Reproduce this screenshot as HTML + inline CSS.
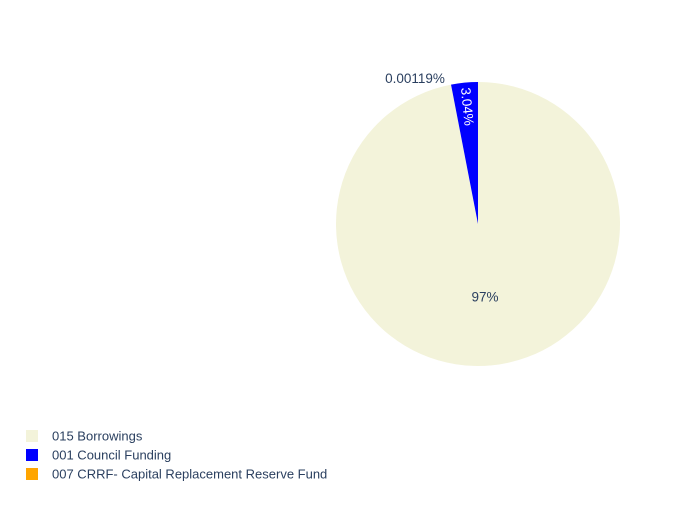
<!DOCTYPE html>
<html><head><meta charset="utf-8"><style>
body{margin:0;background:#fff;font-family:"Liberation Sans",Arial,sans-serif;}
svg text{font-family:"Liberation Sans",Arial,sans-serif;}
</style></head><body>
<svg id="chart" width="700" height="500">
<g id="slices"></g>
<g id="labels"></g>
<g id="legend"></g>
</svg>
<script>
const categories = ["015 Borrowings", "001 Council Funding", "007 CRRF- Capital Replacement Reserve Fund"];
const values = [96.95881, 3.04, 0.00119];
const colors = ["#f3f3da", "#0000ff", "#ffa500"];
const cx = 478, cy = 224, r = 142;
const NS = "http://www.w3.org/2000/svg";
const total = values.reduce((a,b)=>a+b,0);
function pt(a, rr){ return [cx + rr*Math.sin(a), cy - rr*Math.cos(a)]; }
function fmt(p){ if(p>=10) return Math.round(p)+"%"; if(p>=1) return p.toFixed(2)+"%"; return p.toPrecision(3).replace(/0+$/,'')+"%"; }
let ang = 0;
const sg = document.getElementById('slices'), lg = document.getElementById('labels'), leg = document.getElementById('legend');
values.forEach((v,i)=>{
  const a0 = ang, a1 = ang + v/total*2*Math.PI; ang = a1;
  const [x0,y0]=pt(a0,r),[x1,y1]=pt(a1,r);
  const large = (a1-a0)>Math.PI?1:0;
  const p = document.createElementNS(NS,'path');
  p.setAttribute('d',`M${cx},${cy} L${x0},${y0} A${r},${r} 0 ${large} 1 ${x1},${y1} Z`);
  p.setAttribute('fill',colors[i]);
  
  
  sg.appendChild(p);
  const pct = v/total*100, mid=(a0+a1)/2;
  const t = document.createElementNS(NS,'text');
  t.setAttribute('font-size','13.5');
  t.textContent = fmt(pct);
  
  
  if(pct>50){ const [x,y]=pt(mid,r*0.52); t.setAttribute('x',x); t.setAttribute('y',y+4); t.setAttribute('text-anchor','middle'); t.setAttribute('fill','#2a3f5f'); }
  else if(pct>1){ const [x,y]=pt(mid,r*0.83); const deg=mid*180/Math.PI-90+180; t.setAttribute('transform',`translate(${x},${y}) rotate(${deg})`); t.setAttribute('text-anchor','middle'); t.setAttribute('dy','4'); t.setAttribute('fill','#fff'); }
  else { t.setAttribute('x',cx-63); t.setAttribute('y',cy-141); t.setAttribute('text-anchor','middle'); t.setAttribute('fill','#2a3f5f'); }
  lg.appendChild(t);
  const ly = 436 + i*19;
  const rect = document.createElementNS(NS,'rect');
  rect.setAttribute('x',26); rect.setAttribute('y',ly-6); rect.setAttribute('width',12); rect.setAttribute('height',12); rect.setAttribute('fill',colors[i]);
  
  
  leg.appendChild(rect);
  const lt = document.createElementNS(NS,'text');
  lt.setAttribute('x',52); lt.setAttribute('y',ly+4.5); lt.setAttribute('font-size','13'); lt.setAttribute('fill','#2a3f5f');
  lt.textContent = categories[i];
  
  
  leg.appendChild(lt);
});
</script>
</body></html>
